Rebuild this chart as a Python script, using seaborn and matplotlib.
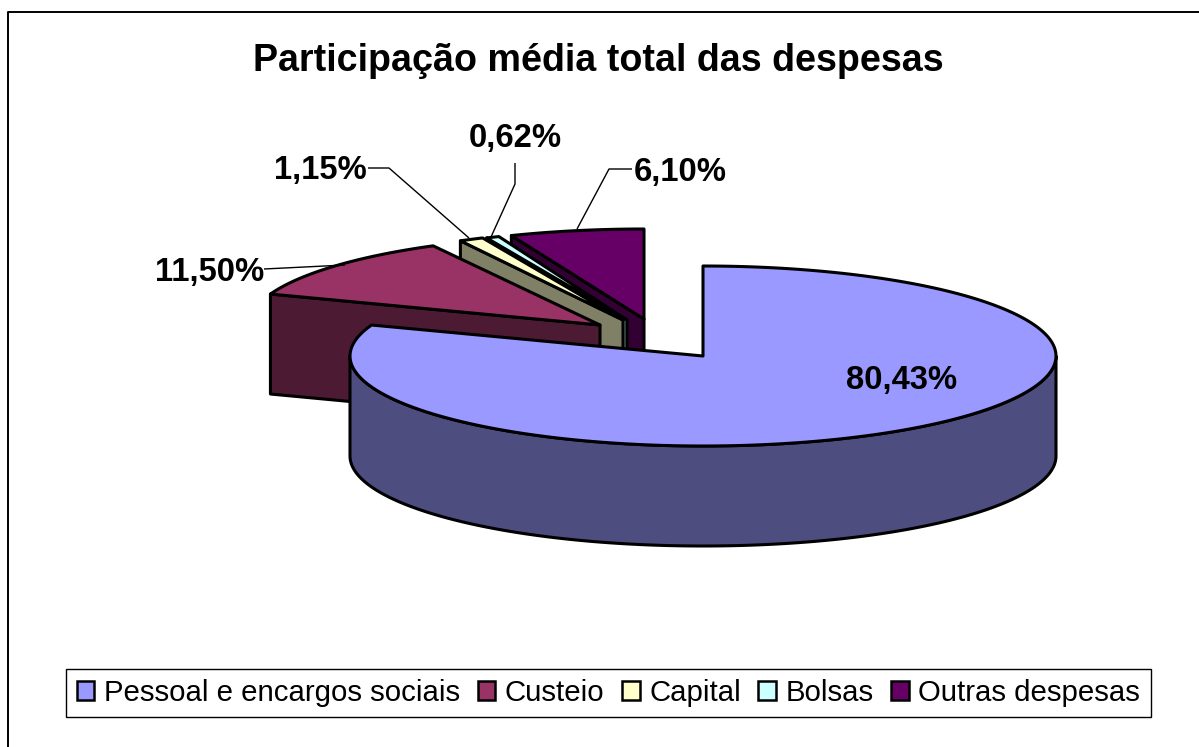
import numpy as np
import seaborn as sns
import matplotlib.pyplot as plt
from matplotlib.patches import Polygon, Patch

categorias = ['Pessoal e encargos sociais', 'Custeio', 'Capital', 'Bolsas', 'Outras despesas']
valores = [80.43, 11.50, 1.15, 0.62, 6.10]
rotulos = ['80,43%', '11,50%', '1,15%', '0,62%', '6,10%']
cores = ['#9999FF', '#993366', '#FFFFCC', '#CCFFFF', '#660066']

# geometria da pizza em pixels da imagem
centros = [(703, 356), (600, 325), (623, 320), (627, 320), (644, 319)]
raio_x = [353, 351, 342, 342, 354]
raio_y = 90
altura = 100

sns.set_theme(style='white')
plt.rcParams['font.family'] = ['Liberation Sans', 'DejaVu Sans']

fig = plt.figure(figsize=(11.99, 7.47), dpi=100)
ax = fig.add_axes([0, 0, 1, 1])
ax.set_xlim(0, 1199)
ax.set_ylim(747, 0)
ax.axis('off')

cores_rgb = sns.color_palette(cores)
escuras = [tuple(c * 0.5 for c in cor) for cor in cores_rgb]

# angulos medidos a partir do topo, sentido horario
fim = np.cumsum(valores) / sum(valores) * 360
inicio = np.concatenate([[0], fim[:-1]])


def arco(i, a, b):
    t = np.radians(np.linspace(a, b, 200))
    cx, cy = centros[i]
    return np.column_stack([cx + raio_x[i] * np.sin(t), cy - raio_y * np.cos(t)])


def desenha(i):
    cx, cy = centros[i]
    topo = np.vstack([[cx, cy], arco(i, inicio[i], fim[i])])
    if i == 0:
        # parede externa da parte da frente
        frente = arco(i, 90, 270)
        parede = np.vstack([frente, (frente + [0, altura])[::-1]])
    else:
        # lateral visivel: corte radial do lado esquerdo
        canto = arco(i, inicio[i], inicio[i] + 0.01)[0]
        parede = np.array([canto, (cx, cy), (cx, cy + altura), canto + [0, altura]])
    ax.add_patch(Polygon(parede, closed=True, facecolor=escuras[i], edgecolor='black', lw=2.2, joinstyle='round'))
    ax.add_patch(Polygon(topo, closed=True, facecolor=cores_rgb[i], edgecolor='black', lw=2.2, joinstyle='round'))


# de tras para frente
for i in [4, 3, 2, 1, 0]:
    desenha(i)

# linhas de chamada
chamadas = [
    [(264, 269), (345, 265)],
    [(368, 168), (389, 168), (469, 238)],
    [(515, 163), (515, 184), (491, 237)],
    [(632, 169), (609, 169), (577, 229)],
]
for linha in chamadas:
    xs, ys = zip(*linha)
    ax.plot(xs, ys, color='black', lw=1.0, solid_capstyle='butt', zorder=1.5)

fonte = 23.6
posicoes = [(902, 380), (210, 272), (320, 171), (515, 139), (680, 172)]
for pos, txt in zip(posicoes, rotulos):
    ax.text(pos[0], pos[1], txt, fontsize=fonte, fontweight='bold', ha='center', va='center', color='black')

ax.text(598, 61, 'Participação média total das despesas', fontsize=27.1, fontweight='bold', ha='center', va='center', color='black')

# moldura externa: so o topo e a esquerda aparecem, o resto foi cortado
ax.plot([8, 8, 1199], [747, 12, 12], color='black', lw=1.4)

handles = [Patch(facecolor=c, edgecolor='black', linewidth=1.8) for c in cores_rgb]
leg = ax.legend(handles, categorias, ncol=5, loc='center', bbox_to_anchor=(608.5 / 1199, 1 - 693 / 747),
                fontsize=21.2, frameon=True, fancybox=False, edgecolor='black', facecolor='white', framealpha=1,
                handlelength=0.6, handleheight=0.6, handletextpad=0.32, columnspacing=0.6, borderpad=0.35,
                borderaxespad=0, labelcolor='black')
leg.get_frame().set_linewidth(1.0)

fig.savefig('out.png', dpi=100)
